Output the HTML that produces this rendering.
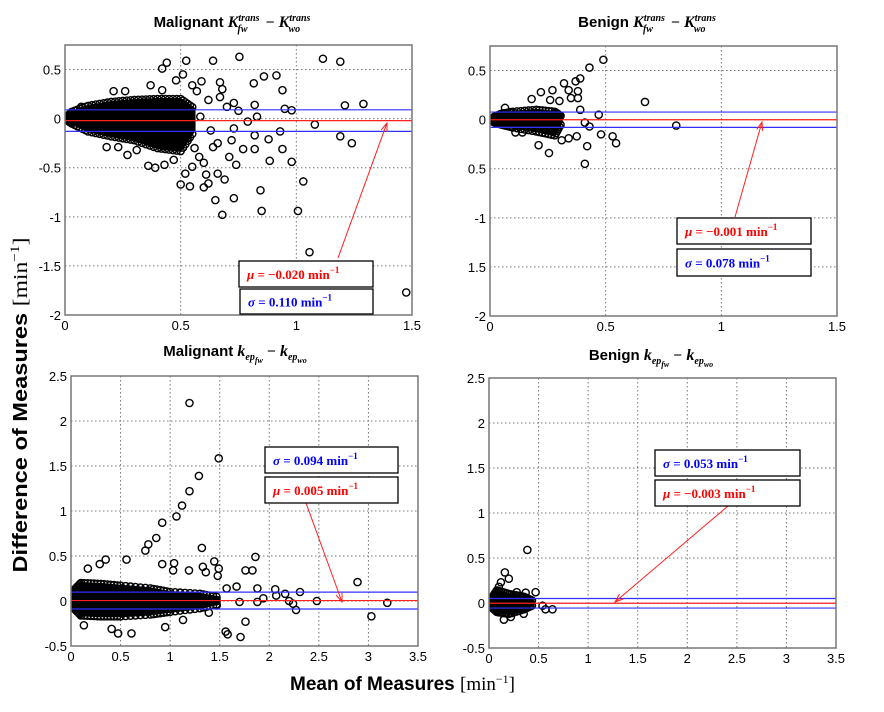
<!DOCTYPE html>
<html><head><meta charset="utf-8"><style>
html,body{margin:0;padding:0;background:#fff;}
svg{display:block;font-family:"Liberation Sans",Arial,sans-serif;}
.tick{font-size:13px;fill:#000;}
.title{font-size:15px;font-weight:bold;}
.m{font-family:"Liberation Serif",serif;font-style:italic;}
.ann{font-family:"Liberation Serif",serif;font-size:13px;font-weight:bold;}
</style></head><body>
<svg id="chart" width="884" height="712" viewBox="0 0 884 712" xmlns="http://www.w3.org/2000/svg">
<g id="layer"></g>
<text x="27" y="405" transform="rotate(-90 27 405)" text-anchor="middle" font-size="20" font-weight="bold" textLength="335" lengthAdjust="spacingAndGlyphs">Difference of Measures <tspan font-family="Liberation Serif" font-weight="normal">[min</tspan><tspan font-family="Liberation Serif" font-weight="normal" font-size="13" dy="-8">−1</tspan><tspan font-family="Liberation Serif" font-weight="normal" dy="8">]</tspan></text>
<text x="290" y="690" font-size="19" font-weight="bold">Mean of Measures <tspan font-family="Liberation Serif" font-weight="normal">[min</tspan><tspan font-family="Liberation Serif" font-weight="normal" font-size="12" dy="-7">−1</tspan><tspan font-family="Liberation Serif" font-weight="normal" dy="7">]</tspan></text>
</svg>
<script>
// ---------- data ----------
const p1X=[0.754,0.524,0.64,0.44,0.42,0.51,1.115,1.19,0.816,0.86,0.914,0.94,0.59,0.67,1.29,1.21,0.73,0.82,0.95,0.98,1.08,1.19,1.24,0.93,0.88,0.94,0.885,0.98,0.82,0.82,0.77,0.74,0.71,0.66,0.69,0.61,0.60,0.54,0.50,0.62,0.65,0.73,0.68,0.845,0.85,1.007,1.03,1.057,1.475,0.43,0.36,0.39,0.47,0.52,0.55,0.58,0.64,0.72,0.73,0.79,0.75,0.83,0.585,0.62,0.67,0.70,0.37,0.42,0.48,0.55,0.21,0.26,0.07,0.27,0.23,0.18,0.31,0.56,0.60,0.63,0.66,0.68,0.57,0.53];
const p1Y=[0.63,0.59,0.59,0.57,0.51,0.45,0.61,0.58,0.36,0.43,0.44,0.29,0.38,0.37,0.15,0.135,0.16,0.14,0.10,0.085,-0.06,-0.18,-0.25,-0.13,-0.21,-0.31,-0.43,-0.44,-0.31,-0.17,-0.31,-0.47,-0.39,-0.56,-0.62,-0.57,-0.70,-0.69,-0.67,-0.66,-0.83,-0.81,-0.98,-0.73,-0.94,-0.94,-0.64,-1.36,-1.77,-0.47,-0.48,-0.50,-0.42,-0.56,-0.49,-0.39,-0.29,-0.22,-0.10,-0.03,0.08,0.02,0.02,0.19,0.22,0.12,0.34,0.29,0.39,0.34,0.28,0.28,0.12,-0.37,-0.29,-0.29,-0.32,-0.30,-0.45,-0.12,-0.25,0.30,0.28,-0.20];
const p1EnvX=[0,0.03,0.1,0.2,0.3,0.4,0.5,0.56];
const p1EnvLo=[0,-0.05,-0.13,-0.18,-0.22,-0.3,-0.33,-0.12];
const p1EnvHi=[0,0.07,0.13,0.17,0.19,0.2,0.2,0.1];

const p2X=[0.49,0.43,0.39,0.37,0.32,0.34,0.38,0.27,0.22,0.35,0.38,0.30,0.26,0.18,0.67,0.39,0.47,0.41,0.43,0.805,0.48,0.53,0.545,0.42,0.41,0.255,0.21,0.34,0.375,0.31,0.11,0.065,0.14];
const p2Y=[0.61,0.53,0.42,0.39,0.37,0.30,0.29,0.30,0.28,0.22,0.22,0.19,0.20,0.21,0.18,0.10,0.05,-0.03,-0.07,-0.06,-0.15,-0.17,-0.24,-0.27,-0.45,-0.34,-0.26,-0.19,-0.17,-0.21,-0.13,0.12,-0.13];
const p2EnvX=[0,0.02,0.05,0.1,0.2,0.28,0.31];
const p2EnvLo=[0,-0.03,-0.05,-0.08,-0.12,-0.16,-0.03];
const p2EnvHi=[0,0.03,0.06,0.08,0.1,0.08,0.03];

const p3X=[1.195,1.49,1.29,1.195,1.12,1.064,0.92,0.86,0.78,0.75,1.32,1.445,1.49,1.86,1.76,1.83,2.89,3.19,3.03,2.48,2.31,2.27,2.24,2.20,2.16,2.07,2.06,1.94,1.88,1.88,1.76,1.71,1.58,1.56,0.95,0.61,0.475,0.41,0.13,1.13,1.03,1.19,1.04,0.92,0.56,0.35,0.29,0.17,1.33,1.36,1.48,1.67,1.57,1.70,1.47,1.39];
const p3Y=[2.20,1.585,1.39,1.22,1.06,0.94,0.87,0.70,0.63,0.56,0.59,0.44,0.36,0.49,0.34,0.34,0.21,-0.02,-0.17,0.0,0.10,-0.10,-0.03,0.0,0.08,0.06,0.13,0.03,0.14,-0.01,-0.23,-0.40,-0.37,-0.34,-0.29,-0.36,-0.36,-0.31,-0.27,-0.21,0.34,0.34,0.42,0.41,0.46,0.46,0.41,0.36,0.38,0.32,0.28,0.16,0.14,-0.01,-0.05,-0.13];
const p3EnvX=[0,0.03,0.1,0.3,0.5,0.8,1.0,1.3,1.5];
const p3EnvLo=[0,-0.08,-0.16,-0.17,-0.17,-0.15,-0.12,-0.08,-0.03];
const p3EnvHi=[0,0.12,0.2,0.19,0.17,0.14,0.1,0.08,0.04];

const p4X=[0.387,0.16,0.20,0.12,0.47,0.37,0.54,0.57,0.64,0.35,0.15,0.22,0.28,0.10];
const p4Y=[0.59,0.34,0.27,0.23,0.12,0.115,-0.03,-0.07,-0.07,-0.12,-0.185,-0.155,0.12,0.18];
const p4EnvX=[0,0.02,0.08,0.2,0.35,0.45];
const p4EnvLo=[0,-0.04,-0.1,-0.12,-0.07,-0.02];
const p4EnvHi=[0,0.04,0.14,0.1,0.07,0.02];

const means=[-0.020,-0.001,0.005,-0.003];
const sds=[0.110,0.078,0.094,0.053];
const ktTicksX=[0,0.5,1,1.5];
const ktTicksY=[0.5,0,-0.5,-1,-1.5,-2];
const ktLabels1=["0.5","0","-0.5","-1","-1.5","-2"];
const ktLabels2=["0.5","0","0.5","-1","1.5","-2"];
const kepTicksX=[0,0.5,1,1.5,2,2.5,3,3.5];
const kepTicksY=[-0.5,0,0.5,1,1.5,2,2.5];
const kepLabelsY=["-0.5","0","0.5","1","1.5","2","2.5"];

// ---------- drawing ----------
const NS="http://www.w3.org/2000/svg";
const layer=document.getElementById('layer');
function mk(tag,attrs,parent){const e=document.createElementNS(NS,tag);for(const k in attrs)e.setAttribute(k,attrs[k]);(parent||layer).appendChild(e);return e;}
function fmt(v){return String(v);}

const panels=[
 {name:'malignant-ktrans',box:[65,45,412,315],xd:[0,1.5],yd:[-2,0.75],xt:ktTicksX,yt:ktTicksY,yl:ktLabels1,X:p1X,Y:p1Y,EX:p1EnvX,EL:p1EnvLo,EH:p1EnvHi,
  title:{x:232,y:27,pre:'Malignant ',kind:'kt'},boxes:[{t:'mu',r:[239,261,373,287]},{t:'sd',r:[240,289,373,314]}],arrow:[338,258,387,123]},
 {name:'benign-ktrans',box:[490,46,837,316],xd:[0,1.5],yd:[-2,0.75],xt:ktTicksX,yt:ktTicksY,yl:ktLabels2,X:p2X,Y:p2Y,EX:p2EnvX,EL:p2EnvLo,EH:p2EnvHi,
  title:{x:647,y:27,pre:'Benign ',kind:'kt'},boxes:[{t:'mu',r:[677,218,811,244]},{t:'sd',r:[677,249,811,276]}],arrow:[735,217,762,122]},
 {name:'malignant-kep',box:[71,376,418,646],xd:[0,3.5],yd:[-0.5,2.5],xt:kepTicksX,yt:kepTicksY,yl:kepLabelsY,X:p3X,Y:p3Y,EX:p3EnvX,EL:p3EnvLo,EH:p3EnvHi,
  title:{x:235,y:356,pre:'Malignant ',kind:'kep'},boxes:[{t:'sd',r:[265,447,398,473]},{t:'mu',r:[265,477,398,503]}],arrow:[306,503,342,602]},
 {name:'benign-kep',box:[489,378,836,648],xd:[0,3.5],yd:[-0.5,2.5],xt:kepTicksX,yt:kepTicksY,yl:kepLabelsY,X:p4X,Y:p4Y,EX:p4EnvX,EL:p4EnvLo,EH:p4EnvHi,
  title:{x:651,y:360,pre:'Benign ',kind:'kep'},boxes:[{t:'sd',r:[655,450,800,476]},{t:'mu',r:[655,480,800,506]}],arrow:[728,506,615,602]}
];

panels.forEach((p,i)=>{
 const [L,T,R,B]=p.box;
 const sx=v=>L+(v-p.xd[0])/(p.xd[1]-p.xd[0])*(R-L);
 const sy=v=>B-(v-p.yd[0])/(p.yd[1]-p.yd[0])*(B-T);
 const g=mk('g',{});
 
 
 const clipId='clip'+i;
 const cp=mk('clipPath',{id:clipId},g);mk('rect',{x:L,y:T,width:R-L,height:B-T},cp);
 p.xt.forEach((v,k)=>{
  if(k>0&&k<p.xt.length-1){const gl=mk('line',{x1:sx(v),x2:sx(v),y1:T,y2:B,stroke:'#777','stroke-dasharray':'1.5,2.5','stroke-width':1},g);
   }
  const t=mk('text',{x:sx(v),y:B+15,'text-anchor':'middle',class:'tick'},g);t.textContent=fmt(v);
  
 });
 p.yt.forEach((v,k)=>{
  const yy=sy(v);
  if(yy>T+1&&yy<B-1){const gl=mk('line',{x1:L,x2:R,y1:yy,y2:yy,stroke:'#777','stroke-dasharray':'1.5,2.5','stroke-width':1},g);
   }
  const t=mk('text',{x:L-4,y:yy+5,'text-anchor':'end',class:'tick'},g);t.textContent=p.yl[k];
  
 });
 const pg=mk('g',{'clip-path':'url(#'+clipId+')'},g);
 let pts=p.EX.map((x,k)=>sx(x)+','+sy(p.EH[k]));
 pts=pts.concat(p.EX.map((x,k)=>sx(x)+','+sy(p.EL[k])).reverse());
 const env=mk('polygon',{points:pts.join(' '),fill:'#000',stroke:'#000','stroke-width':2,'stroke-linejoin':'round'},pg);
 
 
 for(let k=0;k<p.EX.length-1;k++){
  for(let s=0;s<6;s++){
   const f=s/6, x=p.EX[k]+(p.EX[k+1]-p.EX[k])*f;
   const hi=p.EH[k]+(p.EH[k+1]-p.EH[k])*f, lo=p.EL[k]+(p.EL[k+1]-p.EL[k])*f;
   [hi,lo].forEach(yv=>{
    const c=mk('circle',{cx:sx(x),cy:sy(yv),r:3.6,fill:'none',stroke:'#000','stroke-width':1.4},pg);
    
    
   });
  }
 }
 p.X.forEach((x,k)=>{
  const c=mk('circle',{cx:sx(x),cy:sy(p.Y[k]),r:3.6,fill:'none',stroke:'#000','stroke-width':1.4},pg);
  
  
 });
 const mu=means[i],sd=sds[i];
 [[mu+sd,'#3030ff','upper-sd-line'],[mu-sd,'#3030ff','lower-sd-line'],[mu,'#ff2020','mean-line']].forEach(a=>{
  const l=mk('line',{x1:L,x2:R,y1:sy(a[0]),y2:sy(a[0]),stroke:a[1],'stroke-width':1.2},pg);
  
  
 });
 const fr=mk('rect',{x:L,y:T,width:R-L,height:B-T,fill:'none',stroke:'#777','stroke-width':1.5},g);
 
 
 const tt=p.title;
 const tx=mk('text',{x:tt.x,y:tt.y,'text-anchor':'middle',class:'title'},g);
 
 
 if(tt.kind==='kt'){
  tx.innerHTML=tt.pre+'<tspan class="m" font-size="16">K</tspan><tspan class="m" font-size="10" dy="-6">trans</tspan><tspan class="m" font-size="10" dx="-22" dy="11">fw</tspan><tspan font-weight="normal" dx="14" dy="-5"> − </tspan><tspan class="m" font-size="16">K</tspan><tspan class="m" font-size="10" dy="-6">trans</tspan><tspan class="m" font-size="10" dx="-22" dy="11">wo</tspan>';
 } else {
  tx.innerHTML=tt.pre+'<tspan class="m" font-size="16">k</tspan><tspan class="m" font-size="10" dy="4">ep</tspan><tspan class="m" font-size="8" dy="3">fw</tspan><tspan font-weight="normal" dy="-7"> − </tspan><tspan class="m" font-size="16">k</tspan><tspan class="m" font-size="10" dy="4">ep</tspan><tspan class="m" font-size="8" dy="3">wo</tspan>';
 }
 const [ax1,ay1,ax2,ay2]=p.arrow;
 const ar=mk('g',{},g);
 
 
 mk('line',{x1:ax1,y1:ay1,x2:ax2,y2:ay2,stroke:'#ff2020','stroke-width':1},ar);
 const ang=Math.atan2(ay2-ay1,ax2-ax1),h=9;
 mk('polyline',{points:(ax2-h*Math.cos(ang-0.35))+','+(ay2-h*Math.sin(ang-0.35))+' '+ax2+','+ay2+' '+(ax2-h*Math.cos(ang+0.35))+','+(ay2-h*Math.sin(ang+0.35)),fill:'none',stroke:'#ff2020','stroke-width':1},ar);
 p.boxes.forEach(b=>{
  const [x1,y1,x2,y2]=b.r;
  const bg=mk('g',{},g);
  
  
  mk('rect',{x:x1,y:y1,width:x2-x1,height:y2-y1,fill:'#fff',stroke:'#000','stroke-width':1.3},bg);
  const col=b.t==='mu'?'#ff0000':'#0000ff';
  const val=b.t==='mu'?mu:sd;
  const s=(val<0?'−':'')+Math.abs(val).toFixed(3);
  const t=mk('text',{x:x1+8,y:(y1+y2)/2+5,fill:col,class:'ann'},bg);
  t.innerHTML='<tspan font-style="italic">'+(b.t==='mu'?'μ':'σ')+'</tspan> = '+s+' min<tspan font-size="9" dy="-6">−1</tspan>';
 });
});
</script>
</body></html>
